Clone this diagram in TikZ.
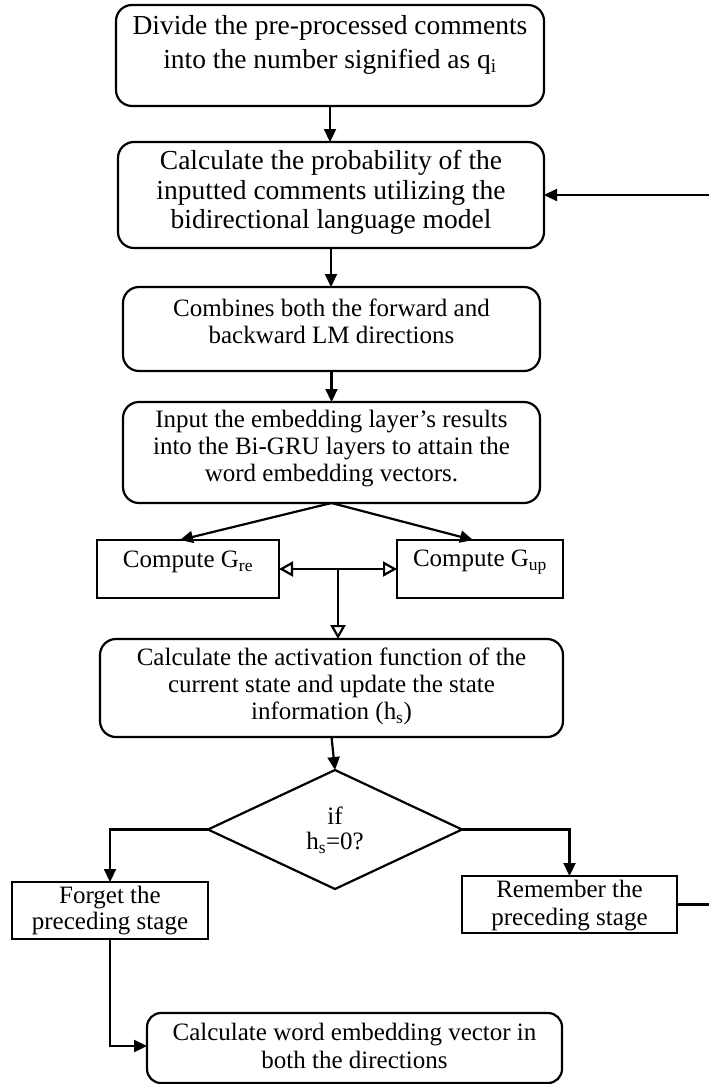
\documentclass[tikz,border=0pt]{standalone}
\usepackage{fontspec}
\setmainfont{Liberation Serif}
\usetikzlibrary{arrows.meta,shapes.geometric}
\begin{document}
\begin{tikzpicture}[x=1pt,y=-1pt,
  every node/.style={inner sep=0pt,outer sep=0pt},
  rbox/.style={draw,line width=2.2pt,rounded corners=16pt},
  sbox/.style={draw,line width=2.2pt},
  txt/.style={align=center,font=\fontsize{25}{27}\selectfont},
  bigtxt/.style={align=center,font=\fontsize{27.5}{32}\selectfont},
  conn/.style={line width=2.2pt,-{Triangle[length=13pt,width=12pt]}},
  hconn/.style={line width=2.2pt,-{Triangle[open,length=14pt,width=15pt]}}]
\useasboundingbox (0,0) rectangle (709,1084);

% boxes
\node[rbox,minimum width=428pt,minimum height=101pt] (b1) at (330,55.5) {};
\node[bigtxt,font=\fontsize{27.5}{34}\selectfont] (t1) at (330,45) {Divide the pre-processed comments\\into the number signified as q\textsubscript{i}};

\node[rbox,minimum width=426pt,minimum height=106pt] (b2) at (331,195) {};
\node[bigtxt,font=\fontsize{27.5}{29.5}\selectfont] (t2) at (331,192.5) {Calculate the probability of the\\inputted comments utilizing the\\bidirectional language model};

\node[rbox,minimum width=417pt,minimum height=84pt] (b3) at (331.5,329) {};
\node[txt] (t3) at (331.5,321.5) {Combines both the forward and\\backward LM directions};

\node[rbox,minimum width=417pt,minimum height=101pt] (b4) at (331.5,452.5) {};
\node[txt] (t4) at (331.5,448.5) {Input the embedding layer’s results\\into the Bi-GRU layers to attain the\\word embedding vectors.};

\node[sbox,minimum width=182pt,minimum height=58pt] (gre) at (188,569) {};
\node[txt] (tgre) at (188,562) {Compute G\textsubscript{re}};

\node[sbox,minimum width=166pt,minimum height=58pt] (gup) at (480,569) {};
\node[txt] (tgup) at (480,562) {Compute G\textsubscript{up}};

\node[rbox,minimum width=463pt,minimum height=98pt] (b7) at (331.5,688) {};
\node[txt] (t7) at (331.5,686.5) {Calculate the activation function of the\\current state and update the state\\information (h\textsubscript{s})};

\node[diamond,draw,line width=2.2pt,minimum width=254pt,minimum height=119pt] (d) at (335,829.5) {};
\node[txt,font=\fontsize{25}{25}\selectfont] (td) at (335,830) {if\\h\textsubscript{s}=0?};

\node[sbox,minimum width=196pt,minimum height=57pt] (fg) at (110,910.5) {};
\node[txt,font=\fontsize{25}{26}\selectfont] (tfg) at (110,910.5) {Forget the\\preceding stage};

\node[sbox,minimum width=215pt,minimum height=57pt] (rm) at (569.5,904.5) {};
\node[txt,font=\fontsize{25}{28}\selectfont] (trm) at (569.5,906) {Remember the\\preceding stage};

\node[rbox,rounded corners=14pt,minimum width=415pt,minimum height=70pt] (b11) at (354.5,1048) {};
\node[txt,font=\fontsize{25}{28}\selectfont] (t11) at (354.5,1046) {Calculate word embedding vector in\\both the directions};

% connectors
\draw[conn] (b1.south) -- (b1.south |- b2.north);
\draw[conn] (b2.south) -- (b2.south |- b3.north);
\draw[conn] (b3.south) -- (b3.south |- b4.north);
\draw[conn] (b4.south) -- ([xshift=-8pt]gre.north);
\draw[conn] (b4.south) -- ([xshift=-7pt]gup.north);

\coordinate (j) at (338,569);
\draw[hconn] (j) -- (gre.east);
\draw[hconn] (j) -- (gup.west);
\draw[hconn] (j) -- (j |- b7.north);

\draw[conn] (b7.south) -- (d.north);
\draw[conn] (d.west) -| (fg.north);
\draw[conn] (d.east) -| (rm.north);
\draw[conn] (fg.south) |- ([yshift=2pt]b11.west);

\coordinate (fb) at (714,195);
\draw[conn] (rm.east) -- (rm.east -| fb) -- (fb) -- (b2.east);
\end{tikzpicture}
\end{document}
